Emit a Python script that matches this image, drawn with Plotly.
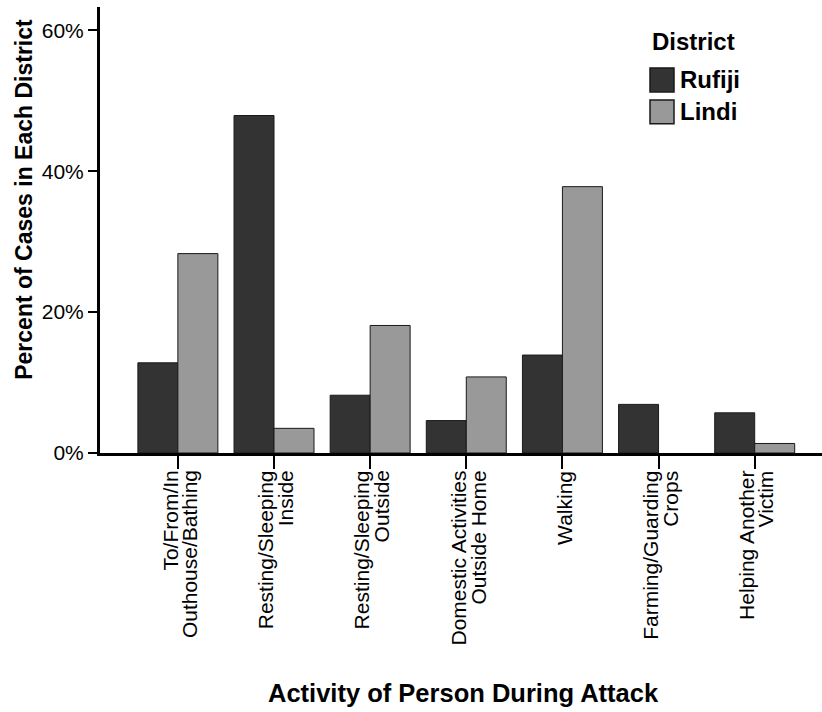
import plotly.graph_objects as go

categories = [
    "To/From/In<br>Outhouse/Bathing",
    "Resting/Sleeping<br>Inside",
    "Resting/Sleeping<br>Outside",
    "Domestic Activities<br>Outside Home",
    "Walking",
    "Farming/Guarding<br>Crops",
    "Helping Another<br>Victim",
]
rufiji = [12.8, 47.9, 8.2, 4.6, 13.9, 6.9, 5.7]
lindi = [28.3, 3.5, 18.1, 10.8, 37.8, 0.0, 1.35]
series_names = ["Rufiji", "Lindi"]
series_colors = ["#333333", "#999999"]
y_ticks = [0, 20, 40, 60]
y_ticklabels = ["0%", "20%", "40%", "60%"]

W, H = 822, 712
L, R, T, B = 100, 0, 7, 258.5
pw, ph = W - L - R, H - T - B


def px(x):
    return (x - L) / pw


def py(y):
    return (H - B - y) / ph


fig = go.Figure()
for name, vals, col in zip(series_names, [rufiji, lindi], series_colors):
    fig.add_trace(go.Bar(
        x=categories, y=vals, name=name,
        marker=dict(color=col,
                    line=dict(color="#1a1a1a", width=[1 if v > 0 else 0 for v in vals])),
        showlegend=False,
    ))

font = "Liberation Sans, Arial, sans-serif"

fig.update_layout(
    width=W, height=H,
    margin=dict(l=L, r=R, t=T, b=B, pad=0),
    paper_bgcolor="white", plot_bgcolor="white",
    barmode="group", bargap=0.168, bargroupgap=0,
    font=dict(family=font, color="black"),
)
fig.update_xaxes(
    range=[-0.81, 6.70], showline=True, linewidth=3, linecolor="black",
    ticks="outside", ticklen=13, tickwidth=2, tickcolor="black",
    showticklabels=False,
    showgrid=False, zeroline=False,
)
fig.update_yaxes(
    range=[0, 63.3], showline=True, linewidth=3, linecolor="black",
    ticks="outside", ticklen=9, tickwidth=2, tickcolor="black",
    tickvals=y_ticks, ticktext=y_ticklabels,
    tickfont=dict(size=21, family=font, color="black"),
    showgrid=False, zeroline=False,
)

annotations = [
    dict(text="<b>Percent of Cases in Each District</b>", x=px(24), y=py(200),
         xref="paper", yref="paper", textangle=-90, showarrow=False,
         font=dict(size=23, family=font, color="black"), xanchor="center", yanchor="middle"),
    dict(text="<b>Activity of Person During Attack</b>", x=px(464), y=py(694),
         xref="paper", yref="paper", showarrow=False,
         font=dict(size=25.5, family=font, color="black"), xanchor="center", yanchor="middle"),
    dict(text="<b>District</b>", x=px(650), y=py(42),
         xref="paper", yref="paper", showarrow=False,
         font=dict(size=24, family=font, color="black"), xanchor="left", yanchor="middle"),
]

# category tick labels, one rotated line each, tied to the category axis
pitch = 19.5
for cat in categories:
    lines = cat.split("<br>")
    n = len(lines)
    for i, line in enumerate(lines):
        annotations.append(dict(
            text=line, x=cat, xref="x", y=py(469), yref="paper",
            textangle=-90, showarrow=False, xanchor="center", yanchor="top",
            xshift=(i - (n - 1) / 2) * pitch + 2,
            font=dict(size=21, family=font, color="black"),
        ))

shapes = []
for i, (name, col) in enumerate(zip(series_names, series_colors)):
    top = 68 + i * 32
    shapes.append(dict(type="rect", xref="paper", yref="paper",
                       x0=px(650), x1=px(674), y0=py(top), y1=py(top + 24),
                       fillcolor=col, line=dict(color="#1a1a1a", width=1.5)))
    annotations.append(dict(text="<b>%s</b>" % name, x=px(678), y=py(top + 12),
                            xref="paper", yref="paper", showarrow=False,
                            font=dict(size=24, family=font, color="black"),
                            xanchor="left", yanchor="middle"))
fig.update_layout(annotations=annotations, shapes=shapes)

fig.write_html("out.html", config={"displayModeBar": False},
               post_script="document.body.style.margin='0px';")
